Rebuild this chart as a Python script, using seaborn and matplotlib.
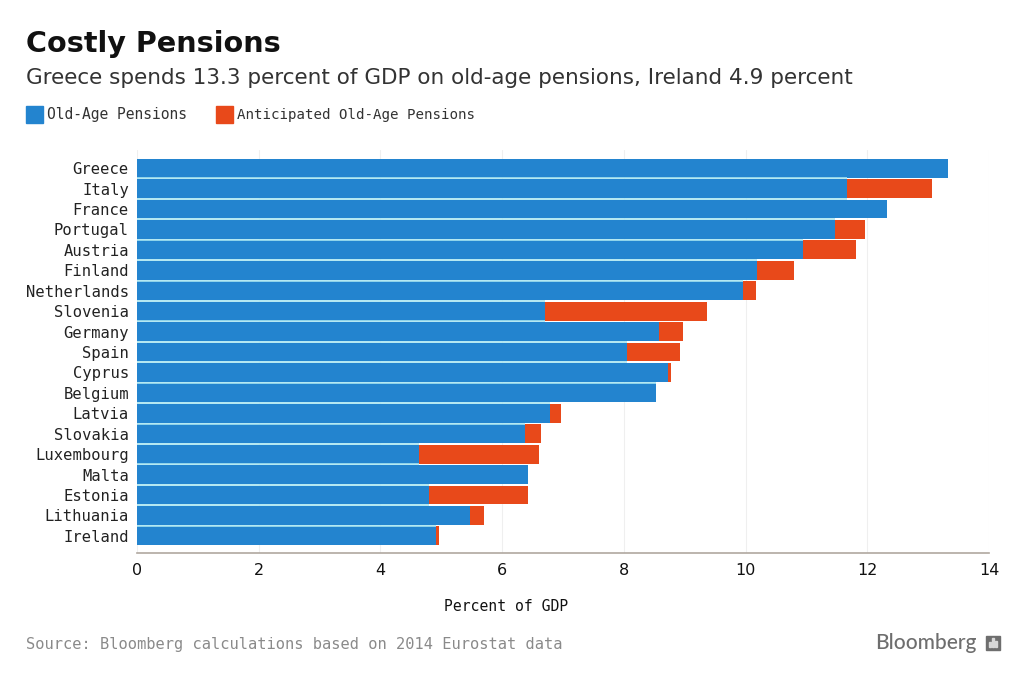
import matplotlib
matplotlib.use("Agg")
import matplotlib.pyplot as plt
from matplotlib.patches import Rectangle
import seaborn as sns
import pandas as pd

countries = ["Greece","Italy","France","Portugal","Austria","Finland","Netherlands","Slovenia","Germany","Spain","Cyprus","Belgium","Latvia","Slovakia","Luxembourg","Malta","Estonia","Lithuania","Ireland"]
old_age = [13.33,11.67,12.33,11.47,10.95,10.18,9.95,6.70,8.57,8.05,8.73,8.53,6.78,6.37,4.63,6.42,4.80,5.47,4.92]
anticipated = [0,1.40,0,0.50,0.87,0.62,0.22,2.67,0.40,0.87,0.05,0,0.19,0.27,1.97,0,1.62,0.23,0.05]
xticks = [0,2,4,6,8,10,12,14]

BLUE = "#2384CF"
ORANGE = "#E8491A"
EDGE = "#A5E4F0"
W, H = 1024, 682

sns.set_theme(style="white")
plt.rcParams['font.family'] = ['DejaVu Sans']
df = pd.DataFrame({"country": countries, "old": old_age, "ant": anticipated})
df["total"] = df["old"] + df["ant"]

fig = plt.figure(figsize=(W/100, H/100), dpi=100, facecolor="white")
ax = fig.add_axes([137/W, 1-553/H, (989-137)/W, (553-150)/H])
ax.set_facecolor("white")
sns.barplot(data=df, y="country", x="total", color=ORANGE, width=0.92, saturation=1,
            edgecolor="none", ax=ax, order=countries)
sns.barplot(data=df, y="country", x="old", color=BLUE, width=0.92, saturation=1,
            edgecolor="none", ax=ax, order=countries)
for p in ax.patches:
    p.set_zorder(3)
for i in range(len(countries)-1):
    ax.plot([0, df["old"].iloc[i:i+2].min()], [i+0.5, i+0.5], color=EDGE, lw=1.2, zorder=4, solid_capstyle="butt")
ax.set_xlim(0, 14)
ax.set_ylim(18.84, -0.89)
ax.set_xticks(xticks)
ax.xaxis.grid(True, color="#EFEFEF", lw=0.8)
ax.yaxis.grid(False)
ax.set_axisbelow(True)
for s in ["top", "right", "left"]:
    ax.spines[s].set_visible(False)
ax.spines["bottom"].set_color("#B0A8A0")
ax.spines["bottom"].set_linewidth(1.2)
ax.tick_params(axis="x", length=3.5, color="#A8A8A8", width=1, pad=4, labelsize=11.5, labelcolor="#111111")
ax.tick_params(axis="y", length=0, pad=5.8, labelcolor="#222222")
for lab in ax.get_yticklabels():
    lab.set_family("DejaVu Sans Mono"); lab.set_fontsize(11.2)
ax.set_ylabel("")
ax.set_xlabel("Percent of GDP", fontsize=10.6, family="DejaVu Sans Mono", color="#111111", labelpad=15, x=0.433)

def T(x, y, s, **kw):
    fig.text(x/W, 1-y/H, s, va="center", ha=kw.pop("ha", "left"), **kw)

T(26, 44, "Costly Pensions", fontsize=20.6, fontweight="bold", color="#111111")
T(26, 78, "Greece spends 13.3 percent of GDP on old-age pensions, Ireland 4.9 percent", fontsize=15.46, color="#333333")
fig.add_artist(Rectangle((26/W, 1-123/H), 17/W, 17/H, transform=fig.transFigure, color=BLUE))
T(47, 115, "Old-Age Pensions", fontsize=10.55, family="DejaVu Sans Mono", color="#333333")
fig.add_artist(Rectangle((216/W, 1-123/H), 17/W, 17/H, transform=fig.transFigure, color=ORANGE))
T(237, 115, "Anticipated Old-Age Pensions", fontsize=10.15, family="DejaVu Sans Mono", color="#333333")
T(26, 645, "Source: Bloomberg calculations based on 2014 Eurostat data", fontsize=11.05, family="DejaVu Sans Mono", color="#8A8A8A")
T(875, 643, "Bloomberg", fontsize=15, fontweight="medium", family="Lato", color="#6E6E6E")
fig.add_artist(Rectangle((986/W, 1-650/H), 14/W, 14/H, transform=fig.transFigure, color="#6E6E6E"))
for bx, bh in zip((989, 992, 995), (5, 9, 6)):
    fig.add_artist(Rectangle((bx/W, 1-647/H), 1.5/W, bh/H, transform=fig.transFigure, color="#D8D8D8"))
fig.savefig("out.png", dpi=100)
